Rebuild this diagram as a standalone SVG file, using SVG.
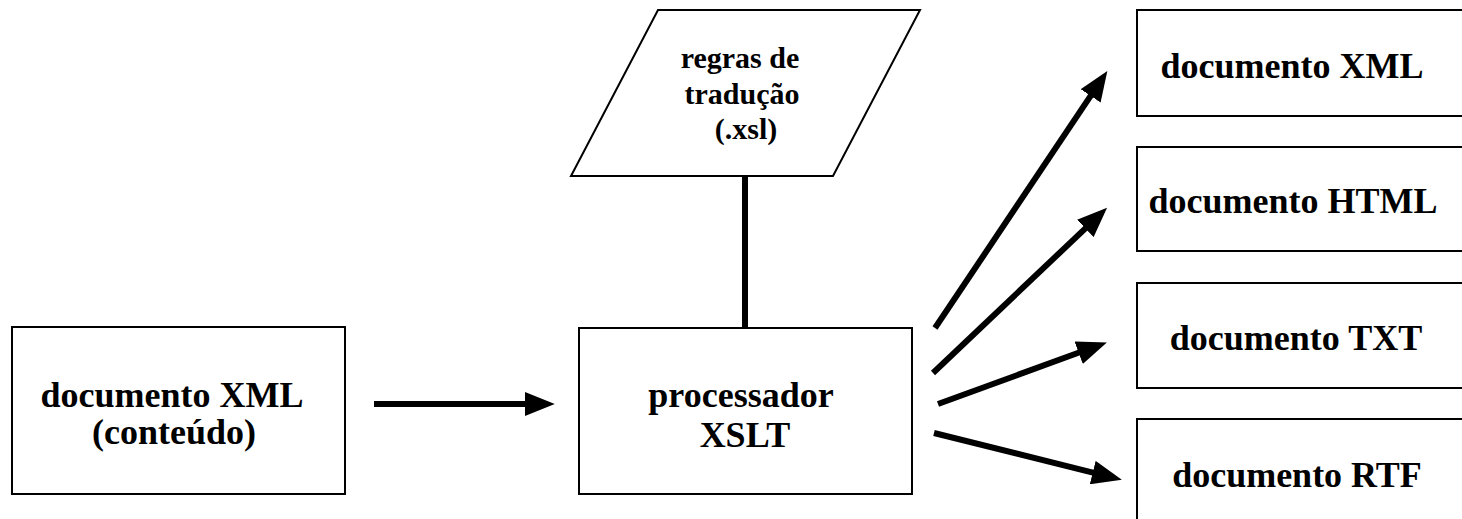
<svg xmlns="http://www.w3.org/2000/svg" width="1462" height="519" viewBox="0 0 1462 519">
<style>
.box{fill:#fff;stroke:#000;stroke-width:2}
.t{font-family:"Liberation Serif","Times New Roman",serif;font-weight:bold;font-size:36px;fill:#000;text-anchor:middle}
.ts{font-size:30px}
.c{stroke:#000;stroke-width:6;fill:none}
</style>
<defs>
<marker id="ah" viewBox="0 -2 5 4" refX="0.2" refY="0" markerWidth="5" markerHeight="4" orient="auto" markerUnits="strokeWidth">
<path d="M0,-2 L5,0 L0,2 z" fill="#000"/>
</marker>
</defs>
<rect width="1462" height="519" fill="#fff"/>
<g id="connectors">
<line class="c" x1="374" y1="404" x2="526" y2="404" marker-end="url(#ah)"/>
<line class="c" x1="745" y1="176" x2="745" y2="328"/>
<line class="c" x1="935" y1="328" x2="1091.3" y2="94.9" marker-end="url(#ah)"/>
<line class="c" x1="933" y1="373" x2="1086.2" y2="227.6" marker-end="url(#ah)"/>
<line class="c" x1="938" y1="404" x2="1079.8" y2="352.3" marker-end="url(#ah)"/>
<line class="c" x1="934" y1="433" x2="1093.9" y2="472.8" marker-end="url(#ah)"/>
</g>
<g id="src">
<rect class="box" x="12" y="327" width="333" height="167"/>
<text class="t" x="172" y="407">documento XML</text>
<text class="t" x="174" y="444">(conteúdo)</text>
</g>
<g id="rules">
<polygon class="box" points="658,10 920,10 833,176 571,176"/>
<text class="t ts" x="740" y="68">regras de</text>
<text class="t ts" x="742" y="104">tradução</text>
<text class="t ts" x="746" y="139">(.xsl)</text>
</g>
<g id="proc">
<rect class="box" x="579" y="328" width="333" height="166"/>
<text class="t" x="741" y="407">processador</text>
<text class="t" x="745" y="447">XSLT</text>
</g>
<g id="out-xml">
<rect class="box" x="1137" y="10" width="340" height="106"/>
<text class="t" x="1292" y="78">documento XML</text>
</g>
<g id="out-html">
<rect class="box" x="1137" y="147" width="340" height="104"/>
<text class="t" x="1293" y="213">documento HTML</text>
</g>
<g id="out-txt">
<rect class="box" x="1137" y="283" width="340" height="105"/>
<text class="t" x="1296" y="350">documento TXT</text>
</g>
<g id="out-rtf">
<rect class="box" x="1137" y="419" width="340" height="120"/>
<text class="t" x="1297" y="487">documento RTF</text>
</g>
</svg>
